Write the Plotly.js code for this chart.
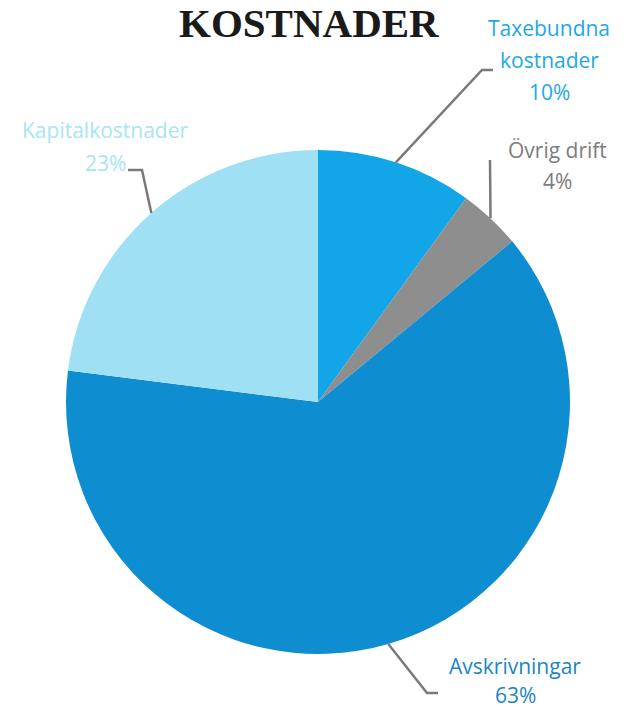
<!DOCTYPE html>
<html>
<head>
<meta charset="utf-8">
<script src="https://cdn.plot.ly/plotly-3.0.1.min.js"></script>
<style>html,body{margin:0;padding:0;background:#fff;}#chart{width:628px;height:710px;}</style>
</head>
<body>
<div id="chart"></div>
<script>
const categories = ["Taxebundna kostnader", "Övrig drift", "Avskrivningar", "Kapitalkostnader"];
const labelLines = [["Taxebundna", "kostnader"], ["Övrig drift"], ["Avskrivningar"], ["Kapitalkostnader"]];
const values = [10, 4, 63, 23];
const sliceColors = ["#12a6e8", "#8e8e8e", "#0e8ed0", "#a0e0f5"];
const textColors = ["#1ea8e8", "#7d7d7d", "#1a86c6", "#a6e6f2"];

const W = 628, H = 710;
const cx = 318, cy = 402, R = 252;

// label placement (pixels: centre x, first-line y) and leader elbows
const labelPos = [
  {x: 549, y: 28, elbow: [482, 70], tail: [493, 70]},
  {x: 557, y: 150, elbow: [490, 160], tail: null},
  {x: 515, y: 666, elbow: [427, 693], tail: [438, 693]},
  {x: 105, y: 130, elbow: [142, 170], tail: [128, 170]}
];
const lineGap = [32, 31, 29, 33];

const total = values.reduce((a, b) => a + b, 0);
const px = x => x / W;
const py = y => 1 - y / H;

const annotations = [{
  text: "<b>KOSTNADER</b>", x: px(309), y: py(23), xref: "paper", yref: "paper",
  showarrow: false, xanchor: "center", yanchor: "middle",
  font: {family: "Liberation Serif, Times New Roman, serif", size: 41, color: "#1a1a1a"}
}];
const shapes = [];
let cum = 0;
values.forEach((v, i) => {
  const mid = (cum + v / 2) / total * 2 * Math.PI;
  cum += v;
  const ex = cx + R * Math.sin(mid), ey = cy - R * Math.cos(mid);
  const lp = labelPos[i];
  let path = `M ${px(ex)} ${py(ey)} L ${px(lp.elbow[0])} ${py(lp.elbow[1])}`;
  if (lp.tail) path += ` L ${px(lp.tail[0])} ${py(lp.tail[1])}`;
  shapes.push({type: "path", xref: "paper", yref: "paper", path: path,
    line: {color: "#7a7a7a", width: 2.5}});
  const lines = labelLines[i].concat([Math.round(v / total * 100) + "%"]);
  lines.forEach((t, k) => {
    annotations.push({
      text: t, x: px(lp.x), y: py(lp.y + k * lineGap[i]), xref: "paper", yref: "paper",
      showarrow: false, xanchor: "center", yanchor: "middle", align: "center",
      font: {family: "Open Sans, sans-serif", size: 21, color: textColors[i]}
    });
  });
});

const data = [{
  type: "pie", labels: categories, values: values, sort: false,
  direction: "clockwise", rotation: 0, textinfo: "none", hoverinfo: "label+percent",
  marker: {colors: sliceColors, line: {width: 0}},
  domain: {x: [(cx - R) / W, (cx + R) / W], y: [(H - cy - R) / H, (H - cy + R) / H]}
}];

const layout = {
  width: W, height: H, margin: {l: 0, r: 0, t: 0, b: 0},
  showlegend: false, paper_bgcolor: "#ffffff",
  annotations: annotations, shapes: shapes
};
Plotly.newPlot("chart", data, layout, {displayModeBar: false});
</script>
</body>
</html>
